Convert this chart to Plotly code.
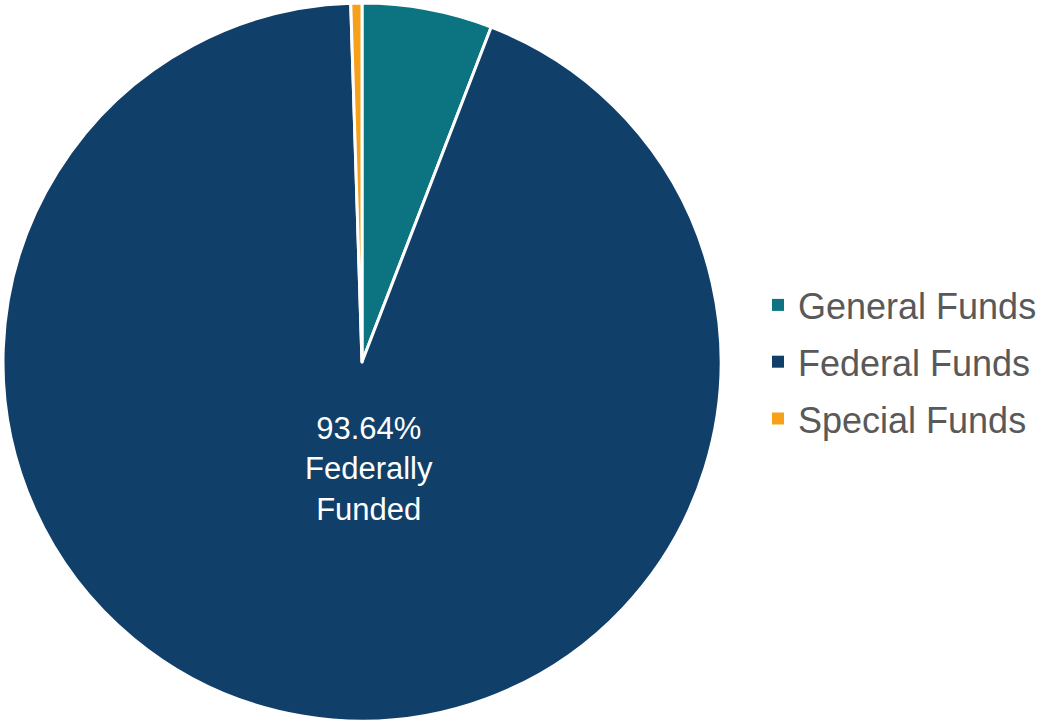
import plotly.graph_objects as go

labels = ["General Funds", "Federal Funds", "Special Funds"]
values = [5.86, 93.64, 0.50]
colors = ["#0C7480", "#103F69", "#F7A11A"]

W, H = 1045, 721
cx, cy, r = 362, 362, 359

fig = go.Figure()
fig.add_trace(go.Pie(
    labels=labels,
    values=values,
    sort=False,
    direction="clockwise",
    rotation=0,
    marker=dict(colors=colors, line=dict(color="white", width=3)),
    textinfo="none",
    hoverinfo="label+percent",
    showlegend=False,
    domain=dict(x=[(cx - r) / W, (cx + r) / W], y=[1 - (cy + r) / H, 1 - (cy - r) / H]),
))

# legend entries (same labels and colours as the slices)
for lab, col in zip(labels, colors):
    fig.add_trace(go.Scatter(
        x=[None], y=[None], mode="markers", name=lab,
        marker=dict(symbol="square", size=12, color=col),
        legendgroup=lab, showlegend=True, hoverinfo="skip",
    ))

fig.add_annotation(
    x=369 / W, y=1 - 469 / H, xref="paper", yref="paper",
    text=f"{values[1]:.2f}%<br>Federally<br>Funded",
    showarrow=False,
    font=dict(family="Liberation Sans, Arial, sans-serif", size=31, color="white"),
    align="center",
)

fig.update_layout(
    width=W, height=H,
    margin=dict(l=0, r=0, t=0, b=0),
    paper_bgcolor="white",
    plot_bgcolor="white",
    xaxis=dict(visible=False),
    yaxis=dict(visible=False),
    showlegend=True,
    legend=dict(
        x=758 / W, xanchor="left",
        y=1 - 362 / H, yanchor="middle",
        font=dict(family="Liberation Sans, Arial, sans-serif", size=36, color="#595959"),
        bgcolor="rgba(0,0,0,0)",
        tracegroupgap=7,
        traceorder="grouped",
    ),
)

fig.write_html("out.html")
